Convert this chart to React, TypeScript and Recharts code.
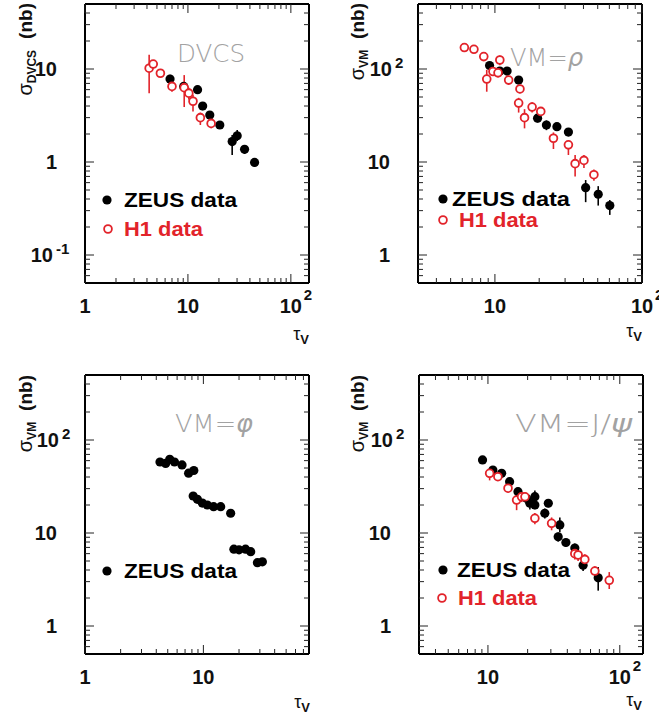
import React from "react";
import { ScatterChart, Scatter, XAxis, YAxis, ErrorBar } from "recharts";

// rows: tau_V, sigma (nb), error down, error up
const dvcsZeus = [
  [6.7, 7.8, 0.8, 0.9],
  [9.1, 6.5, 0.6, 0.7],
  [12.4, 6.0, 0.6, 0.6],
  [13.9, 4.0, 0.4, 0.4],
  [16.3, 3.2, 0.3, 0.3],
  [20.4, 2.5, 0.2, 0.2],
  [26.9, 1.66, 0.47, 0.29],
  [30.1, 1.91, 0.23, 0.3],
  [35.5, 1.37, 0.15, 0.15],
  [44.4, 0.99, 0.1, 0.1],
];
const dvcsH1 = [
  [4.2, 10.2, 4.7, 4.0],
  [4.6, 11.3, 1.0, 1.2],
  [5.4, 9.0, 0.8, 0.8],
  [7.0, 6.5, 0.8, 0.8],
  [9.2, 6.3, 2.4, 2.3],
  [10.2, 5.5, 0.8, 0.8],
  [11.2, 4.5, 1.0, 0.8],
  [13.2, 3.0, 0.5, 0.4],
  [16.8, 2.6, 0.3, 0.3],
];
const rhoZeus = [
  [9.2, 109, 9, 9],
  [10.8, 95, 8, 8],
  [12.1, 95, 8, 8],
  [14.5, 76, 6, 6],
  [19.5, 29.6, 3, 3],
  [22.4, 25, 3, 3],
  [26.4, 24, 2.5, 2.5],
  [31.6, 21, 2, 2],
  [41.4, 5.3, 1.6, 1.1],
  [50.4, 4.5, 1.1, 1.0],
  [60.4, 3.4, 0.7, 0.5],
];
const rhoH1 = [
  [6.2, 170, 10, 10],
  [7.2, 163, 10, 10],
  [8.4, 136, 10, 10],
  [8.8, 78, 21, 20],
  [9.7, 94, 10, 10],
  [10.5, 91, 10, 10],
  [10.8, 125, 15, 15],
  [12.4, 76, 8, 8],
  [14.5, 43, 9, 6],
  [14.8, 61, 6, 6],
  [15.9, 30, 7, 7],
  [17.9, 39, 5, 5],
  [20.5, 35, 4, 4],
  [25.0, 18, 4.2, 2.8],
  [31.6, 15.3, 3.4, 1.7],
  [35.1, 9.6, 2.6, 2.3],
  [40.3, 10.4, 1.8, 1.5],
  [47.1, 7.3, 1.0, 1.0],
];
const phiZeus = [
  [4.3, 58], [4.8, 56], [5.2, 62], [5.7, 58], [6.6, 54], [7.5, 44], [8.3, 47],
  [8.2, 25], [8.9, 23], [9.8, 21], [10.8, 20], [12.2, 19.2], [14.0, 19.2], [17.0, 16.3],
  [18.1, 6.7], [20.0, 6.6], [22.7, 6.7], [25.1, 6.3], [28.6, 4.8], [31.5, 4.9],
];
const jpsiZeus = [
  [9.1, 61, 5, 5],
  [10.9, 47.6, 4, 4],
  [12.7, 43.8, 4, 4],
  [14.6, 35.6, 4, 4],
  [16.9, 27.8, 3, 3],
  [19.6, 23.6, 3, 3],
  [20.8, 20.9, 3, 3],
  [22.7, 24.6, 3, 4],
  [22.7, 20.0, 2, 2],
  [27.0, 16.3, 2, 2],
  [28.7, 20.9, 2, 2],
  [35.1, 12.2, 2, 2.5],
  [34.1, 9.1, 1, 1],
  [39.0, 7.9, 0.8, 0.8],
  [45.6, 6.9, 0.8, 0.8],
  [52.7, 4.5, 0.6, 0.6],
  [68.6, 3.3, 0.9, 1.0],
];
const jpsiH1 = [
  [10.3, 43.8, 7, 5],
  [11.9, 40.3, 4, 4],
  [14.2, 30.3, 3, 3],
  [16.5, 22.6, 5, 4],
  [18.0, 24.5, 3, 3],
  [19.1, 24.5, 3, 3],
  [22.7, 14.4, 2, 2],
  [30.4, 12.7, 2, 2],
  [45.6, 6.0, 0.8, 0.8],
  [48.3, 5.8, 0.8, 0.8],
  [54.3, 5.2, 0.7, 0.7],
  [64.7, 3.9, 0.5, 0.5],
  [83.2, 3.1, 0.6, 0.7],
];

const xTicksDvcs = [1, 2, 3, 4, 5, 6, 7, 8, 9, 10, 20, 30, 40, 50, 60, 70, 80, 90, 100];
const xTicksRho = [4, 5, 6, 7, 8, 9, 10, 20, 30, 40, 50, 60, 70, 80, 90, 100];
const xTicksPhi = [1, 2, 3, 4, 5, 6, 7, 8, 9, 10, 20, 30, 40, 50, 60, 70];
const xTicksJpsi = [4, 5, 6, 7, 8, 9, 10, 20, 30, 40, 50, 60, 70, 80, 90, 100];
const yTicksDvcs = [
  0.06, 0.07, 0.08, 0.09, 0.1, 0.2, 0.3, 0.4, 0.5, 0.6, 0.7, 0.8, 0.9,
  1, 2, 3, 4, 5, 6, 7, 8, 9, 10, 20, 30, 40,
];
const yTicksVm = [
  0.6, 0.7, 0.8, 0.9, 1, 2, 3, 4, 5, 6, 7, 8, 9,
  10, 20, 30, 40, 50, 60, 70, 80, 90, 100, 200, 300, 400,
];

const RED = "#e2232a";
const FONT = "'Liberation Sans', Arial, Helvetica, sans-serif";
const W = 330;
const H = 360;
const PL = 85;
const PT = 4;
const PR = 309;
const PB = 283;

const toPts = (rows: number[][]) =>
  rows.map(([x, y, lo, hi]) => ({ x, y, err: [lo ?? 0, hi ?? 0] }));

const isMajor = (v: number) => Math.abs(Math.log10(v) - Math.round(Math.log10(v))) < 1e-6;

const labelFor = (v: number): [string, string] => {
  if (Math.abs(v - 0.1) < 1e-9) return ["10", "-1"];
  if (v === 100) return ["10", "2"];
  return [String(v), ""];
};

const lab = { fontFamily: FONT, fontWeight: 700, fontSize: 20, fill: "#111" } as const;
const supLab = { fontFamily: FONT, fontWeight: 700, fontSize: 15, fill: "#111" } as const;

const bottomTick = (p: any) => {
  const v = p.payload.value;
  const major = isMajor(v);
  const [base, sup] = labelFor(v);
  return (
    <g>
      <line x1={p.x} x2={p.x} y1={PB} y2={PB - (major ? 9 : 5)} stroke="#222" />
      {major && (
        <text x={p.x} y={PB + 30} textAnchor="middle" style={lab}>
          {base}
        </text>
      )}
      {major && sup && (
        <text x={p.x + 13} y={PB + 17} style={supLab}>
          {sup}
        </text>
      )}
    </g>
  );
};

const topTick = (p: any) => {
  const major = isMajor(p.payload.value);
  return <line x1={p.x} x2={p.x} y1={PT} y2={PT + (major ? 9 : 5)} stroke="#222" />;
};

const leftTick = (p: any) => {
  const v = p.payload.value;
  const major = isMajor(v);
  const [base, sup] = labelFor(v);
  const end = sup ? PL - 26 - (sup.length - 1) * 6 : PL - 28;
  return (
    <g>
      <line x1={PL} x2={PL + (major ? 9 : 5)} y1={p.y} y2={p.y} stroke="#222" />
      {major && (
        <text x={end} y={p.y + 7} textAnchor="end" style={lab}>
          {base}
        </text>
      )}
      {major && sup && (
        <text x={end + 3} y={p.y - 1} style={supLab}>
          {sup}
        </text>
      )}
    </g>
  );
};

const rightTick = (p: any) => {
  const major = isMajor(p.payload.value);
  return <line x1={PR} x2={PR - (major ? 9 : 5)} y1={p.y} y2={p.y} stroke="#222" />;
};

const zeusDot = (p: any) => <circle cx={p.cx} cy={p.cy} r={4.6} fill="#000" />;
const h1Dot = (p: any) => (
  <circle cx={p.cx} cy={p.cy} r={3.9} fill="#fff" stroke={RED} strokeWidth={1.8} />
);

type PanelProps = {
  left: number;
  top: number;
  xDomain: number[];
  xTicks: number[];
  yDomain: number[];
  yTicks: number[];
  zeus: number[][];
  h1?: number[][];
  bars?: boolean;
};

function Panel({ left, top, xDomain, xTicks, yDomain, yTicks, zeus, h1, bars = true }: PanelProps) {
  const frame = { stroke: "#000", strokeWidth: 2 };
  return (
    <div style={{ position: "absolute", left, top }}>
      <ScatterChart
        width={W}
        height={H}
        margin={{ top: PT - 1, left: PL - 1, right: W - PR - 1, bottom: H - PB - 1 }}
      >
        <XAxis xAxisId="b" dataKey="x" type="number" scale="log" domain={xDomain} allowDataOverflow
          ticks={xTicks} interval={0} tick={bottomTick} tickLine={false} axisLine={frame} height={1} />
        <XAxis xAxisId="t" orientation="top" dataKey="x" type="number" scale="log" domain={xDomain}
          allowDataOverflow ticks={xTicks} interval={0} tick={topTick} tickLine={false} axisLine={frame} height={1} />
        <YAxis yAxisId="l" dataKey="y" type="number" scale="log" domain={yDomain} allowDataOverflow
          ticks={yTicks} interval={0} tick={leftTick} tickLine={false} axisLine={frame} width={1} />
        <YAxis yAxisId="r" orientation="right" dataKey="y" type="number" scale="log" domain={yDomain}
          allowDataOverflow ticks={yTicks} interval={0} tick={rightTick} tickLine={false} axisLine={frame} width={1} />
        <Scatter data={toPts(zeus)} xAxisId="b" yAxisId="l" shape={zeusDot} isAnimationActive={false}>
          {bars && <ErrorBar dataKey="err" direction="y" width={0} stroke="#000" strokeWidth={1.6} />}
        </Scatter>
        {h1 && (
          <Scatter data={toPts(h1)} xAxisId="b" yAxisId="l" shape={h1Dot} isAnimationActive={false}>
            <ErrorBar dataKey="err" direction="y" width={0} stroke={RED} strokeWidth={1.6} />
          </Scatter>
        )}
      </ScatterChart>
    </div>
  );
}

const legendText = { fontFamily: FONT, fontWeight: 700, fontSize: 20 } as const;
const grayText = {
  fontFamily: "'DejaVu Sans', 'Liberation Sans', sans-serif",
  fontWeight: 200,
  fontSize: 24,
  fill: "#a2a2a2",
} as const;

const YTitle = ({ x, y, sub }: { x: number; y: number; sub: string }) => (
  <text transform={`translate(${x},${y}) rotate(-90)`} textAnchor="end" style={{ fontFamily: FONT, fill: "#111" }}>
    <tspan fontSize={20}>σ</tspan>
    <tspan fontSize={12} fontWeight={700} dy={4}>{sub}</tspan>
    <tspan fontSize={19} fontWeight={700} dy={-4} dx={11}>(nb)</tspan>
  </text>
);

const XTitle = ({ x, y }: { x: number; y: number }) => (
  <text x={x} y={y} textAnchor="end" style={{ fontFamily: FONT, fill: "#111" }}>
    <tspan fontSize={18}>τ</tspan>
    <tspan fontSize={13} fontWeight={700} dy={4}>V</tspan>
  </text>
);

const ZeusKey = ({ x, y, tx, len = 113 }: { x: number; y: number; tx: number; len?: number }) => (
  <g>
    <circle cx={x} cy={y} r={4.6} fill="#000" />
    <text x={tx} y={y + 7} style={{ ...legendText, fill: "#000" }} textLength={len} lengthAdjust="spacingAndGlyphs">
      ZEUS data
    </text>
  </g>
);

const H1Key = ({ x, y, tx }: { x: number; y: number; tx: number }) => (
  <g>
    <circle cx={x} cy={y} r={3.9} fill="#fff" stroke={RED} strokeWidth={1.8} />
    <text x={tx} y={y + 7} style={{ ...legendText, fill: RED }} textLength={79} lengthAdjust="spacingAndGlyphs">
      H1 data
    </text>
  </g>
);

export default function App() {
  return (
    <div style={{ position: "absolute", left: 0, top: 0, width: 659, height: 718, overflow: "hidden", background: "#fff" }}>
      <Panel left={0} top={0} xDomain={[1, 150]} xTicks={xTicksDvcs} yDomain={[0.05, 50]} yTicks={yTicksDvcs}
        zeus={dvcsZeus} h1={dvcsH1} />
      <Panel left={333} top={0} xDomain={[3, 100]} xTicks={xTicksRho} yDomain={[0.5, 500]} yTicks={yTicksVm}
        zeus={rhoZeus} h1={rhoH1} />
      <Panel left={0} top={371} xDomain={[1, 78]} xTicks={xTicksPhi} yDomain={[0.5, 500]} yTicks={yTicksVm}
        zeus={phiZeus} bars={false} />
      <Panel left={334} top={371} xDomain={[3, 150]} xTicks={xTicksJpsi} yDomain={[0.5, 500]} yTicks={yTicksVm}
        zeus={jpsiZeus} h1={jpsiH1} />
      <svg width={659} height={718} style={{ position: "absolute", left: 0, top: 0, pointerEvents: "none" }}>
        <text x={177} y={62} style={grayText} textLength={68} lengthAdjust="spacingAndGlyphs">DVCS</text>
        <text x={510} y={66} style={grayText} textLength={73} lengthAdjust="spacingAndGlyphs">
          VM=<tspan fontStyle="italic">ρ</tspan>
        </text>
        <text x={175} y={432} style={grayText} textLength={78} lengthAdjust="spacingAndGlyphs">
          VM=<tspan fontStyle="italic">φ</tspan>
        </text>
        <text x={515} y={432} style={grayText} textLength={117} lengthAdjust="spacingAndGlyphs">
          VM=J/<tspan fontStyle="italic">ψ</tspan>
        </text>

        <YTitle x={32} y={3} sub="DVCS" />
        <YTitle x={364} y={3} sub="VM" />
        <YTitle x={32} y={375} sub="VM" />
        <YTitle x={364} y={375} sub="VM" />

        <XTitle x={309} y={340} />
        <XTitle x={642} y={337} />
        <XTitle x={310} y={708} />
        <XTitle x={642} y={706} />

        <ZeusKey x={107} y={200} tx={124} />
        <H1Key x={108} y={229} tx={124} />
        <ZeusKey x={443} y={199} tx={452} len={118} />
        <H1Key x={443} y={220} tx={459} />
        <ZeusKey x={107} y={571} tx={124} />
        <ZeusKey x={443} y={570} tx={457} />
        <H1Key x={442} y={598} tx={458} />
      </svg>
    </div>
  );
}
